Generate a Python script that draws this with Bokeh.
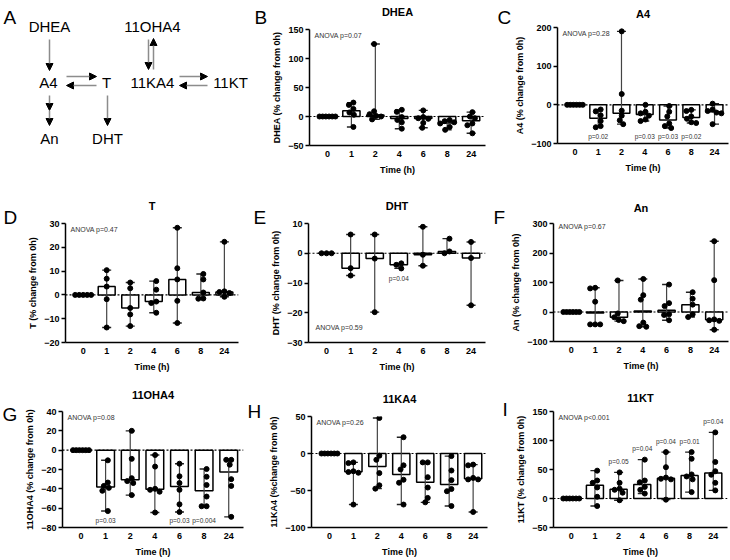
import numpy as np
from bokeh.plotting import figure
from bokeh.models import (Range1d, FixedTicker, Span, Label, LabelSet, ColumnDataSource,
                          Arrow, NormalHead)
from bokeh.layouts import row, column
from bokeh.core.properties import value
from bokeh.embed import file_html
from bokeh.resources import INLINE

FONT = "Liberation Sans"

# ---------------- data ----------------
TIMES = ["0", "1", "2", "4", "6", "8", "24"]

DHEA = [[0, 0, 0, 0, 0, 0],
        [24, 20, 13, 7, 3, -18],
        [125, 9, 4, 1, 0, -5],
        [11.5, 8, -1, -6, -10, -21],
        [10.5, -1, -3, -4, -11, -19.5],
        [-6, -8, -10, -12, -18, -23],
        [7.5, 0, -3, -12, -15, -29]]
A4 = [[0, 0, 0, 0, 0, 0],
      [-12, -17, -27, -42, -55, -58],
      [190, 28, -15, -28, -40, -50],
      [0, -18, -22, -28, -38, -42],
      [-3, -18, -30, -48, -55, -60],
      [-13, -16, -30, -36, -45, -47],
      [3, -12, -16, -20, -22, -50]]
T = [[0, 0, 0, 0, 0],
     [10.4, 6.8, 3.5, -1.8, -13.7],
     [5.2, 2.8, -5.5, -8.2, -13.1],
     [5.8, 2.2, -2.8, -3.4, -7.5],
     [28.2, 11.2, 6.5, -2.5, -11.8],
     [8.8, 6.5, 1.0, -1.5, -1.6],
     [22.3, 1.5, 1.2, 0.8, -0.8]]
DHT = [[0, 0, 0],
       [6.3, -5.0, -7.5],
       [6.3, -1.8, -19.8],
       [-3.4, -3.9, -5.1],
       [8.9, -0.5, -4.2],
       [4.9, 0.6, 0.0],
       [3.8, -1.6, -17.5]]
AN = [[0, 0, 0, 0, 0, 0],
      [82, 80, 35, -42, -42, -42],
      [107, -5, -18, -27, -31],
      [112, 57, 42, -36, -48, -50],
      [93, 30, 20, -8, -10, -28],
      [67, 45, 25, -8, -17],
      [240, 108, -25, -28, -30, -60]]
OHA4_11 = [[0, 0, 0, 0, 0, 0],
           [-10.5, -33.5, -37, -39, -42, -63],
           [20, -9, -29, -32, -34, -46.5],
           [-5, -17, -40, -41, -43, -64.5],
           [-14, -27, -34, -41, -56, -64],
           [-19.5, -27.5, -36, -48, -58, -58],
           [-10, -10, -15, -30, -37, -69]]
KA4_11 = [[0, 0, 0, 0, 0, 0],
          [-12, -13, -24, -25, -26, -69],
          [48, -3, -8.5, -26.5, -43, -47.5],
          [22, -16, -21.5, -35.5, -39.5, -69],
          [-12, -12, -32, -46, -60, -66],
          [-3.5, -23, -36, -48, -51, -71],
          [-15, -16, -33, -35, -35, -79]]
KT_11 = [[0, 0, 0, 0, 0, 0],
         [48, 31, 27, 19, 3, -13],
         [45, 27, 17, 15, 10, -3],
         [67, 31, 28, 20, 15, 8.5],
         [80, 54, 36, 34, 33, -2],
         [80, 68.5, 41.5, 38, 33, 11],
         [114, 63, 47, 41, 27, 14]]

TITLES = {"B": "DHEA", "C": "A4", "D": "T", "E": "DHT", "F": "An",
          "G": "11OHA4", "H": "11KA4", "I": "11KT"}
YLABELS = {"B": "DHEA (% change from 0h)", "C": "A4 (% change from 0h)",
           "D": "T (% change from 0h)", "E": "DHT (% change from 0h)",
           "F": "An (% change from 0h)", "G": "11OHA4 (% change from 0h)",
           "H": "11KA4 (%change from 0h)", "I": "11KT (% change from 0h)"}
YTICKS = {"B": [-50, 0, 50, 100, 150], "C": [-100, 0, 100, 200],
          "D": [-20, -10, 0, 10, 20, 30], "E": [-30, -20, -10, 0, 10],
          "F": [-100, 0, 100, 200, 300], "G": [-80, -60, -40, -20, 0, 20, 40],
          "H": [-100, -50, 0, 50], "I": [-50, 0, 50, 100, 150]}
ANOVA = {"B": "ANOVA p=0.07", "C": "ANOVA p=0.28", "D": "ANOVA p=0.47",
         "E": "ANOVA p=0.59", "F": "ANOVA p=0.67", "G": "ANOVA p=0.08",
         "H": "ANOVA p=0.26", "I": "ANOVA p<0.001"}
PVALS = {"C": {"1": "p=0.02", "4": "p=0.03", "6": "p=0.03", "8": "p=0.02"},
         "E": {"4": "p=0.04"},
         "G": {"1": "p=0.03", "6": "p=0.03", "8": "p=0.004"},
         "I": {"2": "p=0.05", "4": "p=0.04", "6": "p=0.04", "8": "p=0.01", "24": "p=0.04"}}
VALUES = {"B": DHEA, "C": A4, "D": T, "E": DHT, "F": AN,
          "G": OHA4_11, "H": KA4_11, "I": KT_11}

# ---------------- layout / style (pixels) ----------------
X_START, X_END = -0.75, 6.6
# cell x, y, w, h | letter column width, letter x, letter cap top |
# frame left, frame top, frame w, frame h | title centre y
CELLS = {
    "B": (250, 0, 240, 190, 19, 254, 3, 309, 29, 176, 116, 11),
    "C": (490, 0, 239, 190, 22, 497, 3, 553, 27, 175, 116, 13),
    "D": (0, 190, 245, 188, 18, 3, 203, 65, 223, 173, 119, 205),
    "E": (245, 190, 245, 188, 22, 253, 203, 308, 223, 177, 119, 205),
    "F": (490, 190, 239, 188, 17, 493, 203, 553, 223, 175, 118, 207),
    "G": (0, 378, 245, 181, 17, 2, 400, 62, 411, 181, 116, 394),
    "H": (245, 378, 245, 181, 16, 247, 397, 311, 416, 176, 111, 398),
    "I": (490, 378, 239, 181, 17, 502, 395, 553, 411, 174, 116, 397),
}
TOP_BORDER = 6
LETTER_SIZE = 19
CAP = 0.716
ANOVA_POS = {"E": ("bottom", 7, 15), "F": ("top", 5, 3)}
PVAL_MODE = {"C": ("floor", 7), "G": ("floor", 7), "E": ("below", -10), "I": ("above", 11)}


def swarm(vals, ppy, ppx, d=5.0, max_half=8.0):
    order = sorted(range(len(vals)), key=lambda i: -vals[i])
    cands = [0.0]
    for j in range(1, 40):
        cands += [-0.5 * j, 0.5 * j]
    placed, out = [], [0.0] * len(vals)
    for i in order:
        y = vals[i] * ppy
        for c in cands:
            if all((c - px) ** 2 + (y - py) ** 2 >= d * d for px, py in placed):
                break
        placed.append((c, y))
        out[i] = c
    shift = (max(out) + min(out)) / 2.0
    out = [o - shift for o in out]
    m = max(abs(o) for o in out)
    if m > max_half:
        out = [o * max_half / m for o in out]
    return [o / ppx for o in out]


def blank(w, h, xr, yr, left=0, right=0, top=0, bottom=0):
    p = figure(width=w, height=h, x_range=Range1d(*xr), y_range=Range1d(*yr),
               x_axis_location=None, y_axis_location=None, output_backend="svg",
               toolbar_location=None, title=None,
               min_border_left=left, min_border_right=right,
               min_border_top=top, min_border_bottom=bottom)
    p.grid.visible = False
    p.outline_line_color = None
    p.background_fill_color = None
    p.border_fill_color = None
    return p


def style_axis(ax):
    ax.axis_line_width = 1.5
    ax.axis_line_color = "black"
    ax.major_tick_line_width = 1.5
    ax.major_tick_line_color = "black"
    ax.major_tick_in = 0
    ax.minor_tick_in = 0
    ax.minor_tick_out = 0
    ax.major_label_text_font = FONT
    ax.major_label_text_font_size = "9px"
    ax.major_label_text_font_style = "bold"
    ax.major_label_text_color = "black"
    ax.axis_label_text_font = FONT
    ax.axis_label_text_font_size = "9px"
    ax.axis_label_text_font_style = "bold"
    ax.axis_label_text_color = "black"


def make_cell(key):
    cx, cy, cw, ch, lw, lx, ltop, fl, ft, fw, fh, tcy = CELLS[key]
    pw = cw - lw
    left = fl - cx - lw
    right = pw - left - fw
    th = ft - cy - TOP_BORDER
    ph = ch - th
    bottom = ph - TOP_BORDER - fh

    # letter column
    lf = blank(lw, ch, (0, lw), (ch, 0))
    lf.text(x=[lx - cx], y=[ltop - cy + CAP * LETTER_SIZE], text=[key],
            text_font=value(FONT), text_font_size=value(f"{LETTER_SIZE}px"),
            text_align="left", text_baseline="alphabetic", text_color="black")

    # title strip
    tf = blank(pw, th, (0, fw), (th, 0), left=left, right=right)
    tf.text(x=[fw / 2], y=[tcy - cy], text=[TITLES[key]], text_font=value(FONT),
            text_font_size=value("11px"), text_font_style="bold",
            text_align="center", text_baseline="middle", text_color="black")

    # data panel
    ticks = YTICKS[key]
    y0, y1 = ticks[0], ticks[-1]
    vals = VALUES[key]
    p = figure(width=pw, height=ph, x_range=Range1d(X_START, X_END),
               y_range=Range1d(y0, y1), output_backend="svg", toolbar_location=None,
               title=None, min_border_left=left, min_border_top=TOP_BORDER,
               min_border_right=right, min_border_bottom=bottom)
    p.outline_line_color = None
    p.grid.visible = False
    p.background_fill_color = None
    p.border_fill_color = None

    xa, ya = p.xaxis[0], p.yaxis[0]
    style_axis(xa)
    style_axis(ya)
    xa.ticker = FixedTicker(ticks=list(range(len(TIMES))), minor_ticks=[])
    xa.major_label_overrides = {i: t for i, t in enumerate(TIMES)}
    xa.major_tick_out = 0
    xa.major_label_standoff = 5
    xa.axis_label = "Time (h)"
    xa.axis_label_standoff = 5
    ya.ticker = FixedTicker(ticks=ticks, minor_ticks=[])
    ya.major_tick_out = 4
    ya.major_label_standoff = 2
    ya.axis_label = YLABELS[key]
    ya.axis_label_standoff = 3

    ppy = fh / (y1 - y0)
    ppx = fw / (X_END - X_START)

    idx = list(range(len(TIMES)))
    med = [float(np.median(v)) for v in vals]
    mins = [min(v) for v in vals]
    maxs = [max(v) for v in vals]

    p.add_layout(Span(location=0, dimension="width", line_color="black", line_width=1.2,
                      line_dash="2 2", level="underlay"))
    p.vbar(x=idx, top=med, bottom=0, width=0.72, fill_color="white",
           line_color="black", line_width=1.5)
    p.segment(x0=idx, y0=mins, x1=idx, y1=maxs, line_color="#444444", line_width=1.2)
    p.scatter(x=idx + idx, y=mins + maxs, marker="dash", size=9,
              line_color="#222222", line_width=1.4)

    px, py = [], []
    for i, v in enumerate(vals):
        offs = swarm(v, ppy, ppx)
        px += [i + o for o in offs]
        py += list(v)
    p.scatter(x=px, y=py, size=5, fill_color="black", line_color="black")

    where, dx, dy = ANOVA_POS.get(key, ("top", 5, 6))
    p.add_layout(Label(x=X_START, y=(y1 if where == "top" else y0), x_offset=dx,
                       y_offset=(-dy if where == "top" else dy), text=ANOVA[key],
                       text_font=FONT, text_font_size="7px", text_color="#333333",
                       text_align="left", text_baseline="middle"))
    if key in PVALS:
        mode, off = PVAL_MODE[key]
        xs, ys, ts = [], [], []
        for t, s in PVALS[key].items():
            i = TIMES.index(t)
            xs.append(i)
            ts.append(s)
            if mode == "floor":
                ys.append(y0)
            elif mode == "below":
                ys.append(mins[i])
            else:
                ys.append(maxs[i])
        src = ColumnDataSource(dict(x=xs, y=ys, text=ts))
        p.add_layout(LabelSet(x="x", y="y", text="text", source=src, y_offset=off,
                              text_font=value(FONT), text_font_size=value("6.5px"),
                              text_color="#333333", text_align="center",
                              text_baseline="middle"))
    return row(lf, column(tf, p))


# ---------------- panel A : pathway diagram ----------------
A_W, A_H = 250, 190
NODES = {"DHEA": (49, 26), "11OHA4": (152, 26), "A4": (48, 82), "T": (106, 82),
         "11KA4": (152, 82), "11KT": (230, 82), "An": (49, 138), "DHT": (107, 138)}
ARROWS = [((49, 39), (49, 70)), ((49, 95), (49, 110)), ((49, 110), (49, 125)),
          ((66, 76), (96, 76)), ((96, 85), (66, 85)), ((107, 95), (107, 125)),
          ((148, 39), (148, 69)), ((153, 69), (153, 38)),
          ((179, 76), (207, 76)), ((207, 85), (179, 85))]


def make_diagram():
    p = blank(A_W, A_H, (0, A_W), (A_H, 0))
    names = list(NODES.keys())
    p.text(x=[NODES[n][0] for n in names], y=[NODES[n][1] for n in names], text=names,
           text_font=value(FONT), text_font_size=value("15px"), text_align="center",
           text_baseline="middle", text_color="black")
    for (xs, ys), (xe, ye) in ARROWS:
        p.add_layout(Arrow(end=NormalHead(size=7, fill_color="black", line_color="black",
                                          line_width=1),
                           x_start=xs, y_start=ys, x_end=xe, y_end=ye,
                           line_color="#8c8c8c", line_width=1.5))
    p.text(x=[3], y=[3 + CAP * LETTER_SIZE], text=["A"], text_font=value(FONT),
           text_font_size=value(f"{LETTER_SIZE}px"), text_align="left",
           text_baseline="alphabetic", text_color="black")
    return p


layout = column(
    row(make_diagram(), make_cell("B"), make_cell("C")),
    row(make_cell("D"), make_cell("E"), make_cell("F")),
    row(make_cell("G"), make_cell("H"), make_cell("I")),
)

open("out.html", "w").write(file_html(layout, INLINE))
